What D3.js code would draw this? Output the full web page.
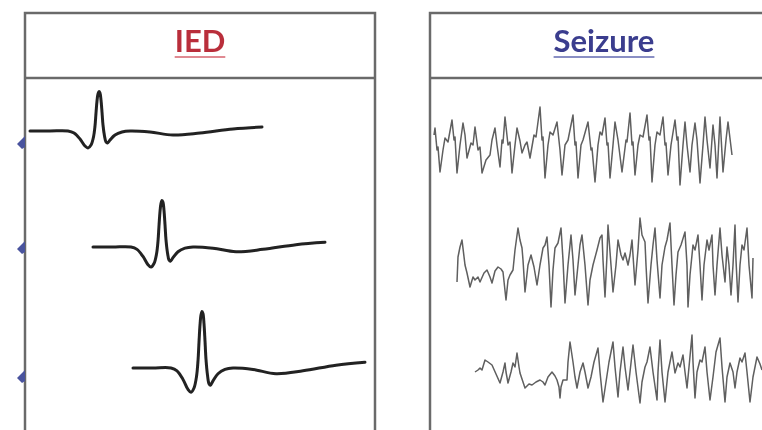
<!DOCTYPE html>
<html>
<head>
<meta charset="utf-8">
<script src="https://cdn.jsdelivr.net/npm/d3@7"></script>
<style>
  html, body { margin: 0; padding: 0; background: #fff; overflow: hidden; }
  svg { display: block; }
</style>
</head>
<body>
<div id="chart"></div>
<script>
// ---------------- DATA ----------------
const panelTitles = ["IED", "Seizure"];

// IED waveform template: [time (ms), amplitude (uV)]
const iedTemplate = [[0,0],[20,0],[38,0],[44,-2],[50,-8],[55,-15],[58,-17],[61,-14],[63.5,-6],[65,5],[66,18],[67,30],[68,37],[69,39.5],[70,38],[71,31],[72,19],[73,6],[74.5,-5],[76,-11],[77.5,-12],[80,-9],[85,-4],[92,-1],[100,0],[120,-1],[143,-4],[170,-2],[203,2],[232,4]];
// relative amplitude of the three IED channels
const iedGains = [1, 1.18, 1.43];

// Seizure traces: [time, amplitude]
const seizure1 = [[0,10],[1,17],[3,-5],[4,-2],[6,-27],[9,-5],[11,7],[14,3],[18,25],[20,5],[21,8],[23,-28],[26,0],[29,22],[31,10],[33,-13],[37,2],[39,0],[41,18],[44,-5],[46,-2],[48,-28],[52,-15],[56,-10],[58,5],[61,17],[63,0],[66,-22],[68,5],[69,2],[71,28],[74,0],[76,3],[78,-28],[81,0],[83,17],[86,4],[88,-8],[91,0],[93,3],[96,-13],[100,10],[102,8],[106,38],[108,5],[109,8],[111,-33],[114,0],[116,13],[119,10],[123,23],[126,-5],[128,-30],[131,0],[134,5],[139,30],[141,0],[142,3],[144,-33],[147,0],[149,5],[154,23],[157,-5],[158,-3],[161,-37],[164,0],[166,13],[168,10],[171,27],[173,0],[174,2],[176,-33],[179,0],[181,23],[184,5],[188,-27],[192,5],[193,3],[196,32],[198,0],[199,3],[201,-30],[204,0],[206,10],[209,8],[213,30],[215,5],[216,8],[218,-37],[221,0],[223,13],[226,10],[229,28],[231,0],[232,2],[234,-30],[237,0],[241,25],[243,5],[244,8],[246,-40],[249,0],[251,23],[253,0],[256,-27],[258,0],[261,22],[263,5],[266,-38],[269,0],[271,28],[273,5],[276,-23],[279,20],[281,0],[283,-33],[286,28],[289,-27],[292,5],[294,23],[298,-10]];
const seizure2 = [[0,-17],[1,8],[3,18],[5,25],[8,0],[10,-8],[13,-22],[16,-12],[18,-15],[21,-12],[23,-17],[27,-8],[30,-5],[33,-12],[35,-18],[38,-6],[41,-2],[44,-4],[46,-7],[49,-35],[51,-15],[53,-10],[56,-5],[58,15],[61,37],[63,25],[65,17],[66,5],[68,-27],[71,0],[74,10],[77,-2],[80,-20],[83,0],[86,17],[88,20],[90,28],[92,0],[94,-42],[96,-5],[98,17],[101,22],[104,37],[106,5],[108,-38],[111,0],[114,30],[116,5],[118,-30],[121,0],[123,20],[125,30],[128,0],[131,-40],[133,-15],[136,0],[140,15],[143,27],[145,30],[146,5],[148,-32],[150,10],[151,40],[154,0],[156,-27],[159,0],[161,25],[164,10],[166,5],[168,12],[171,0],[173,10],[175,25],[176,10],[178,-20],[181,15],[183,47],[185,30],[188,23],[189,0],[191,-38],[194,0],[196,20],[198,37],[200,5],[203,-33],[205,0],[208,18],[210,25],[213,42],[215,0],[217,-40],[219,-10],[221,13],[224,20],[228,33],[230,0],[231,-42],[233,-10],[236,20],[238,15],[241,30],[243,0],[245,-35],[247,0],[250,25],[252,15],[255,30],[256,0],[258,-30],[260,0],[263,37],[265,10],[268,-17],[270,18],[272,0],[274,-30],[276,0],[278,40],[279,5],[281,-37],[283,0],[285,20],[287,15],[290,37],[292,0],[295,-33],[296,7]];
const seizure3 = [[0,0],[3,2],[5,4],[7,2],[10,12],[13,10],[17,7],[21,-2],[25,-11],[28,0],[30,9],[31,0],[33,-11],[36,0],[38,9],[40,5],[42,19],[44,5],[45,-1],[48,-10],[50,-16],[54,-12],[57,-13],[61,-10],[65,-8],[68,-10],[70,-13],[73,-5],[77,0],[80,-4],[82,-8],[84,-15],[85,-26],[86,-15],[88,-8],[92,-8],[93,10],[95,30],[98,10],[100,-5],[102,-16],[105,0],[108,9],[110,0],[113,-16],[116,-5],[119,10],[123,24],[125,0],[128,-30],[131,-10],[134,10],[138,30],[140,5],[143,-25],[145,0],[148,25],[150,5],[153,-18],[155,0],[158,27],[161,0],[165,-31],[167,-10],[170,5],[172,10],[175,25],[178,0],[182,-28],[183,0],[185,32],[187,0],[190,-30],[193,0],[197,20],[200,-1],[203,9],[205,5],[208,17],[210,0],[212,-16],[214,5],[217,37],[218,10],[220,-26],[222,0],[225,12],[227,10],[230,25],[232,0],[235,-28],[238,-5],[241,20],[245,34],[247,5],[250,-30],[252,-5],[255,9],[258,0],[260,-16],[262,0],[265,14],[267,10],[270,19],[272,0],[275,-30],[278,-5],[282,15],[285,8],[287,2]];

// ---------------- LAYOUT ----------------
const W = 762, H = 430;
const svg = d3.select("#chart").append("svg").attr("width", W).attr("height", H);

const defs = svg.append("defs");
defs.append("filter").attr("id", "soft")
  .append("feGaussianBlur").attr("stdDeviation", 0.5);

const frameColor = "#6b6b6b";
const g = svg.append("g").attr("filter", "url(#soft)");

// panels
const panels = [
  { x0: 25, x1: 375, title: panelTitles[0], color: "#b92f3b", ucolor: "#e08a92", cx: 200 },
  { x0: 430, x1: 775, title: panelTitles[1], color: "#3a3e8e", ucolor: "#8a8fc4", cx: 604 }
];
const frameTop = 13, divider = 78;

panels.forEach(p => {
  g.append("rect")
    .attr("x", p.x0).attr("y", frameTop)
    .attr("width", p.x1 - p.x0).attr("height", H + 20 - frameTop)
    .attr("fill", "none").attr("stroke", frameColor).attr("stroke-width", 2.5);
  g.append("line")
    .attr("x1", p.x0).attr("x2", p.x1).attr("y1", divider).attr("y2", divider)
    .attr("stroke", frameColor).attr("stroke-width", 2.5);
  const t = g.append("text")
    .attr("x", p.cx).attr("y", 52)
    .attr("text-anchor", "middle")
    .attr("font-family", "Lato, 'Open Sans', sans-serif")
    .attr("font-weight", 700)
    .attr("font-size", 31)
    .attr("fill", p.color)
    .text(p.title);
  const bb = t.node().getBBox();
  g.append("line")
    .attr("x1", bb.x).attr("x2", bb.x + bb.width)
    .attr("y1", 57).attr("y2", 57)
    .attr("stroke", p.ucolor).attr("stroke-width", 2);
});

// ---------------- IED traces ----------------
const iedStarts = [30, 93, 133];
const iedBase = [131, 247, 368];
const markerY = [143, 248, 377];
const line = d3.line().curve(d3.curveCatmullRom.alpha(0.5));

iedGains.forEach((gain, i) => {
  const x = d3.scaleLinear().domain([0, 232]).range([iedStarts[i], iedStarts[i] + 232]);
  const y = d3.scaleLinear().domain([-50, 50])
    .range([iedBase[i] + 50 * gain, iedBase[i] - 50 * gain]);
  g.append("path")
    .datum(iedTemplate)
    .attr("d", line.x(d => x(d[0])).y(d => y(d[1])))
    .attr("fill", "none").attr("stroke", "#222").attr("stroke-width", 3)
    .attr("stroke-linejoin", "round").attr("stroke-linecap", "round");

  const my = markerY[i];
  g.append("path")
    .attr("d", `M25,${my - 7} L17,${my + 1} L22,${my + 6} L25,${my + 4} Z`)
    .attr("fill", "#4a539e");
});

// ---------------- Seizure traces ----------------
const seizures = [seizure1, seizure2, seizure3];
const szStarts = [434, 457, 475];
const szBase = [145, 265, 372];
const sline = d3.line().curve(d3.curveLinear);

seizures.forEach((data, i) => {
  const x = d3.scaleLinear().domain([0, 300]).range([szStarts[i], szStarts[i] + 300]);
  const y = d3.scaleLinear().domain([-50, 50]).range([szBase[i] + 50, szBase[i] - 50]);
  g.append("path")
    .datum(data)
    .attr("d", sline.x(d => x(d[0])).y(d => y(d[1])))
    .attr("fill", "none").attr("stroke", "#5e5e5e").attr("stroke-width", 1.5)
    .attr("stroke-linejoin", "round");
});
</script>
</body>
</html>
